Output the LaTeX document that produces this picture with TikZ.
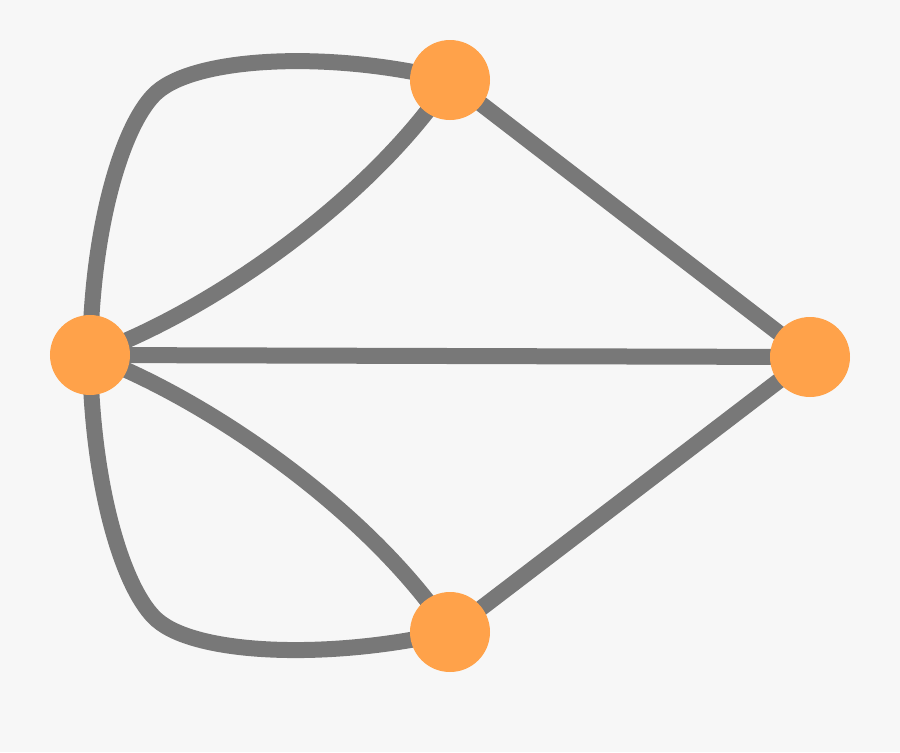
\documentclass[tikz,border=0pt]{standalone}
\usetikzlibrary{positioning}
\definecolor{edgegray}{HTML}{787878}
\definecolor{vertorange}{HTML}{FFA24A}
\definecolor{bggray}{HTML}{F7F7F7}

\begin{document}
\begin{tikzpicture}[
	vertex/.style={
		circle,
		fill=vertorange,
		inner sep=0pt,
		minimum size=0.8cm
	},
	bridge/.style={
		draw=edgegray,
		line width=0.16cm
	}]

   \fill[bggray] (0,0) rectangle (9,7.52);
   \useasboundingbox (0,0) rectangle (9,7.52);

   \coordinate (l) at (0.9,3.97);
   \coordinate (t) at (4.5,6.72);
   \coordinate (r) at (8.1,3.95);
   \coordinate (b) at (4.5,1.20);
   \coordinate (tc) at (1.57,6.60);
   \coordinate (bc) at (1.57,1.32);

   % edges first, vertices on top
   \path[bridge] (l) -- (r);
   \path[bridge] (t) -- (r);
   \path[bridge] (b) -- (r);
   \path[bridge] (l) .. controls (0.92,5.32) and (1.25,6.32) .. (tc)
                     .. controls (1.97,6.95) and (3.30,7.02) .. (t);
   \path[bridge] (l) .. controls (2.10,4.40) and (3.70,5.52) .. (t);
   \path[bridge] (l) .. controls (0.92,2.60) and (1.25,1.60) .. (bc)
                     .. controls (1.97,0.97) and (3.30,0.92) .. (b);
   \path[bridge] (l) .. controls (2.10,3.52) and (3.70,2.40) .. (b);

   \node[vertex] (left) at (l) {};
   \node[vertex] (top) at (t) {};
   \node[vertex] (right) at (r) {};
   \node[vertex] (bottom) at (b) {};
\end{tikzpicture}
\end{document}
